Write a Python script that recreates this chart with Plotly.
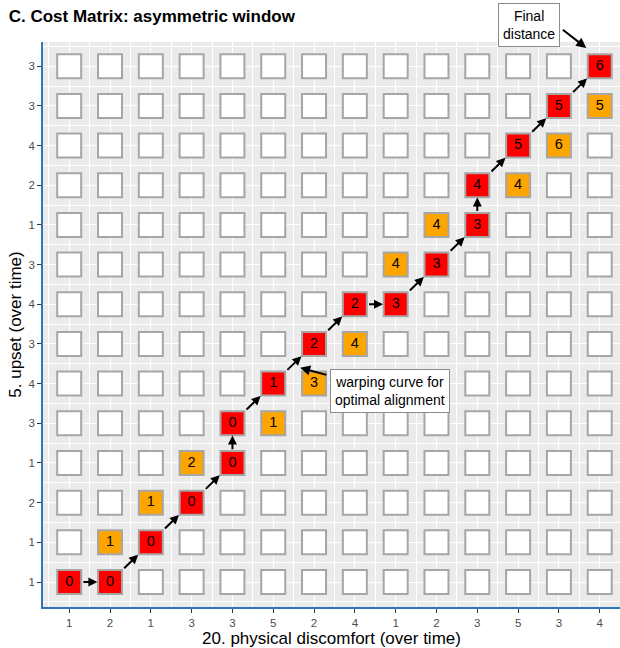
import plotly.graph_objects as go

# Series values at each time step
x_series = [1, 2, 1, 3, 3, 5, 2, 4, 1, 2, 3, 5, 3, 4]   # 20. physical discomfort
y_series = [1, 1, 2, 1, 3, 4, 3, 4, 3, 1, 2, 4, 3, 3]   # 5. upset

# Optimal warping path (column index, row index, accumulated cost)
path_col = [0, 1, 2, 3, 4, 4, 5, 6, 7, 8, 9, 10, 10, 11, 12, 13]
path_row = [0, 0, 1, 2, 3, 4, 5, 6, 7, 7, 8, 9, 10, 11, 12, 13]
path_cost = [0, 0, 0, 0, 0, 0, 1, 2, 2, 3, 3, 3, 4, 5, 5, 6]

# Other cells evaluated inside the asymmetric window
win_col = [1, 2, 3, 5, 6, 7, 8, 9, 11, 12, 13]
win_row = [1, 2, 3, 4, 5, 6, 8, 9, 10, 11, 12]
win_cost = [1, 1, 2, 1, 3, 4, 4, 4, 4, 6, 5]

n_x = len(x_series)
n_y = len(y_series)

FONT = "Liberation Sans, Arial, Helvetica, sans-serif"
RED = "#FF0000"
ORANGE = "#FFA500"
BORDER = "#A6A6A6"
AXIS_BLUE = "#2F78B8"
TILE = 24

fig = go.Figure()

# empty cells of the full matrix
used = set(zip(path_col, path_row)) | set(zip(win_col, win_row))
empty = [(c, r) for c in range(n_x) for r in range(n_y) if (c, r) not in used]
fig.add_trace(go.Scatter(
    x=[c for c, _ in empty], y=[r for _, r in empty], mode="markers",
    marker=dict(symbol="square", size=TILE, color="white",
                line=dict(color=BORDER, width=2)),
    hoverinfo="skip", showlegend=False,
))

# window cells
fig.add_trace(go.Scatter(
    x=win_col, y=win_row, mode="markers+text",
    text=[str(v) for v in win_cost], textposition="middle center",
    textfont=dict(family=FONT, size=14.5, color="black"),
    marker=dict(symbol="square", size=TILE, color=ORANGE,
                line=dict(color=BORDER, width=2)),
    showlegend=False,
))

# warping path cells
fig.add_trace(go.Scatter(
    x=path_col, y=path_row, mode="markers+text",
    text=[str(v) for v in path_cost], textposition="middle center",
    textfont=dict(family=FONT, size=14.5, color="black"),
    marker=dict(symbol="square", size=TILE, color=RED,
                line=dict(color=BORDER, width=2)),
    showlegend=False,
))

# arrows between consecutive path cells, from tile edge to tile edge
annotations = []
gap = 0.31
for i in range(len(path_col) - 1):
    c0, r0 = path_col[i], path_row[i]
    c1, r1 = path_col[i + 1], path_row[i + 1]
    dc, dr = c1 - c0, r1 - r0
    annotations.append(dict(
        x=c1 - dc * gap, y=r1 - dr * gap,
        ax=c0 + dc * gap, ay=r0 + dr * gap,
        xref="x", yref="y", axref="x", ayref="y",
        text="", showarrow=True, arrowhead=2, arrowsize=0.9,
        arrowwidth=2, arrowcolor="black", standoff=0, startstandoff=0,
    ))

label_font = dict(family=FONT, size=14, color="black")

# "Final distance" callout (sits above the panel)
annotations.append(dict(
    x=11.26, xref="x", y=1.03, yref="paper", yanchor="middle",
    text="Final<br>distance",
    showarrow=False, font=label_font, bgcolor="white",
    bordercolor="#8C8C8C", borderwidth=1, borderpad=4, align="center",
))
annotations.append(dict(
    x=12.67, y=13.46, ax=12.06, ay=13.95,
    xref="x", yref="y", axref="x", ayref="y",
    text="", showarrow=True, arrowhead=2, arrowsize=1,
    arrowwidth=2, arrowcolor="black", standoff=0, startstandoff=0,
))

# "warping curve" callout
annotations.append(dict(
    x=7.87, y=4.81, xref="x", yref="y",
    text="warping curve for<br>optimal alignment",
    showarrow=False, font=label_font, bgcolor="white",
    bordercolor="#8C8C8C", borderwidth=1, borderpad=4, align="center",
))
annotations.append(dict(
    x=5.66, y=5.40, ax=6.34, ay=5.21,
    xref="x", yref="y", axref="x", ayref="y",
    text="", showarrow=True, arrowhead=2, arrowsize=1,
    arrowwidth=2, arrowcolor="black", standoff=0, startstandoff=0,
))

axis_common = dict(
    showgrid=True, gridcolor="white", gridwidth=1.2,
    zeroline=False, showline=True, linecolor=AXIS_BLUE, linewidth=1.5,
    ticks="outside", ticklen=4, tickwidth=1, tickcolor="#333333",
    tickfont=dict(family=FONT, size=11.5, color="#4D4D4D"),
    minor=dict(dtick=1, tick0=0.5, showgrid=True, gridcolor="white", gridwidth=0.5, ticks=""),
    fixedrange=True,
)

fig.update_layout(
    width=620, height=648,
    margin=dict(l=43, r=0, t=42, b=41),
    paper_bgcolor="white", plot_bgcolor="#EBEBEB",
    title=dict(text="<b>C. Cost Matrix: asymmetric window</b>",
               font=dict(family=FONT, size=17, color="black"),
               x=0.014, xanchor="left", y=0.975, yanchor="middle"),
    xaxis=dict(axis_common, range=[-0.642, 13.497],
               tickvals=list(range(n_x)), ticktext=[str(v) for v in x_series],
               title=dict(text="20. physical discomfort (over time)",
                          font=dict(family=FONT, size=17, color="black"),
                          standoff=3)),
    yaxis=dict(axis_common, range=[-0.63, 13.61],
               tickvals=list(range(n_y)), ticktext=[str(v) for v in y_series],
               title=dict(text="5. upset (over time)",
                          font=dict(family=FONT, size=17, color="black"),
                          standoff=3)),
    annotations=annotations,
)

fig.write_html("out.html")
